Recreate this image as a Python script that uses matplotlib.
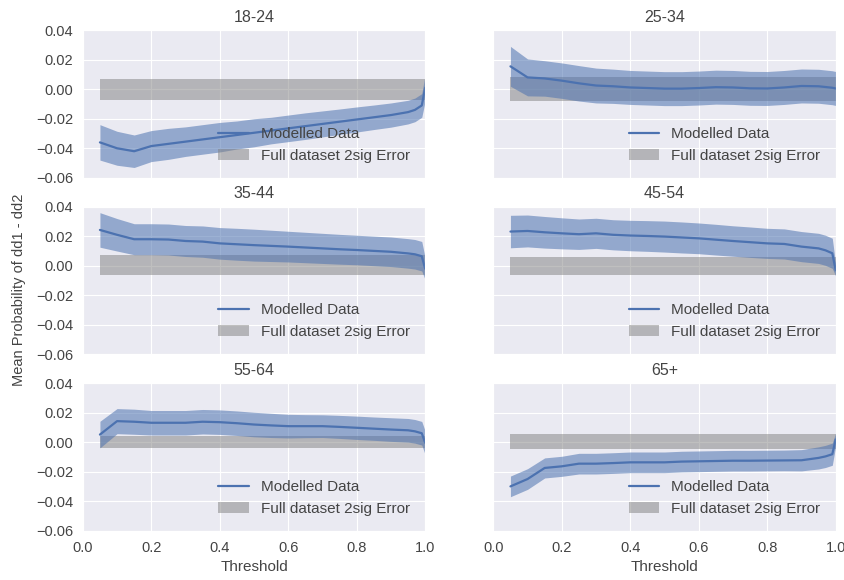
import matplotlib
matplotlib.use("Agg")
import matplotlib.pyplot as plt
import seaborn as sns
import numpy as np

# threshold values shared by every age group
thresholds = [0.05, 0.10, 0.15, 0.20, 0.25, 0.30, 0.35, 0.40, 0.45, 0.50,
              0.55, 0.60, 0.65, 0.70, 0.75, 0.80, 0.85, 0.90, 0.95, 0.97,
              0.99, 1.00]

groups = ["18-24", "25-34", "35-44", "45-54", "55-64", "65+"]

mean_18_24 = [-0.036, -0.040, -0.042, -0.0385, -0.037, -0.0355, -0.034, -0.0325,
              -0.031, -0.0295, -0.028, -0.0265, -0.025, -0.0235, -0.022, -0.0205,
              -0.019, -0.0175, -0.0155, -0.014, -0.011, 0.001]
err_18_24 = [0.012, 0.0115, 0.011, 0.0105, 0.0105, 0.010, 0.010, 0.010,
             0.0095, 0.0095, 0.009, 0.009, 0.009, 0.0088, 0.0086, 0.0085,
             0.0083, 0.0082, 0.008, 0.008, 0.008, 0.009]

mean_25_34 = [0.0155, 0.008, 0.0073, 0.0058, 0.004, 0.0025, 0.002, 0.0012,
              0.0008, 0.0004, 0.0004, 0.0008, 0.0014, 0.0012, 0.0006, 0.0005,
              0.0012, 0.0022, 0.002, 0.0015, 0.001, 0.0005]
err_25_34 = [0.0135, 0.0125, 0.012, 0.012, 0.012, 0.0118, 0.0116, 0.0115,
             0.0115, 0.0115, 0.0115, 0.0115, 0.0115, 0.0115, 0.0115, 0.0115,
             0.0115, 0.0115, 0.0115, 0.0115, 0.0115, 0.0115]

mean_35_44 = [0.0243, 0.021, 0.018, 0.018, 0.0178, 0.0168, 0.0164, 0.0152,
              0.0146, 0.014, 0.0135, 0.013, 0.0124, 0.0118, 0.0112, 0.0107,
              0.0101, 0.0095, 0.0084, 0.0078, 0.0065, -0.002]
err_35_44 = [0.0117, 0.011, 0.0105, 0.0105, 0.0105, 0.0105, 0.0106, 0.0107,
             0.0108, 0.0108, 0.0106, 0.0104, 0.0103, 0.0102, 0.0101, 0.010,
             0.010, 0.010, 0.010, 0.010, 0.010, 0.0075]

mean_45_54 = [0.0232, 0.0236, 0.0227, 0.022, 0.0214, 0.022, 0.021, 0.0205,
              0.0202, 0.0198, 0.0192, 0.0186, 0.0177, 0.0168, 0.016, 0.0152,
              0.0148, 0.013, 0.0118, 0.0105, 0.0085, -0.003]
err_45_54 = [0.011, 0.0108, 0.0107, 0.0105, 0.0103, 0.0102, 0.0102, 0.0103,
             0.0104, 0.0105, 0.0105, 0.0104, 0.0104, 0.0103, 0.0103, 0.0102,
             0.0102, 0.0102, 0.0102, 0.0102, 0.0102, 0.004]

mean_55_64 = [0.0053, 0.0144, 0.014, 0.0133, 0.0133, 0.0133, 0.014, 0.0137,
              0.013, 0.0121, 0.0115, 0.011, 0.011, 0.011, 0.0105, 0.0099,
              0.0093, 0.0087, 0.0082, 0.0075, 0.0062, -0.0003]
err_55_64 = [0.009, 0.0085, 0.0085, 0.0083, 0.0083, 0.0083, 0.0083, 0.0083,
             0.0083, 0.0083, 0.0082, 0.0080, 0.0078, 0.0077, 0.0078, 0.0079,
             0.0079, 0.0080, 0.0080, 0.0080, 0.0080, 0.0080]

mean_65 = [-0.0298, -0.0248, -0.0173, -0.0162, -0.0144, -0.0144, -0.014, -0.0135,
           -0.0135, -0.0135, -0.013, -0.0128, -0.0126, -0.0124, -0.0124, -0.0123,
           -0.0122, -0.0121, -0.0105, -0.0095, -0.008, 0.002]
err_65 = [0.007, 0.007, 0.0068, 0.0068, 0.007, 0.007, 0.007, 0.007,
          0.007, 0.007, 0.007, 0.007, 0.007, 0.007, 0.007, 0.007,
          0.007, 0.0072, 0.0075, 0.0075, 0.0075, 0.0045]

means = [mean_18_24, mean_25_34, mean_35_44, mean_45_54, mean_55_64, mean_65]
errs = [err_18_24, err_25_34, err_35_44, err_45_54, err_55_64, err_65]

# full dataset 2 sigma band (lower, upper) for each group
full_lo = [-0.007, -0.008, -0.006, -0.006, -0.004, -0.0045]
full_hi = [0.007, 0.008, 0.007, 0.006, 0.004, 0.006]

sns.set_style("darkgrid")
plt.rcParams['font.family'] = ['Liberation Sans', 'DejaVu Sans']
text_col = "#444444"
plt.rcParams['text.color'] = text_col
plt.rcParams['xtick.color'] = text_col
plt.rcParams['ytick.color'] = text_col

blue = "#4C72B0"

fig, axes = plt.subplots(3, 2, figsize=(8.45, 5.8), dpi=100,
                         sharex=True, sharey=True)
fig.subplots_adjust(left=0.098, right=0.989, top=0.948, bottom=0.0845,
                    wspace=0.199, hspace=0.196)

x = np.array(thresholds)
for ax, name, m, e, lo, hi in zip(axes.flat, groups, means, errs, full_lo, full_hi):
    m = np.array(m)
    e = np.array(e)
    ax.fill_between(x, lo, hi, color="gray", alpha=0.5, linewidth=0,
                    label="Full dataset 2sig Error")
    ax.fill_between(x, m - e, m + e, color=blue, alpha=0.55, linewidth=0)
    ax.plot(x, m, color=blue, lw=1.6, label="Modelled Data")
    ax.set_title(name, fontsize=11.5, color=text_col)
    ax.set_xlim(0, 1.0)
    ax.set_ylim(-0.06, 0.04)
    ax.set_yticks([-0.06, -0.04, -0.02, 0.00, 0.02, 0.04])
    ax.set_xticks([0.0, 0.2, 0.4, 0.6, 0.8, 1.0])
    ax.tick_params(labelsize=10.5)
    handles, labels = ax.get_legend_handles_labels()
    ax.legend(handles[::-1], labels[::-1], loc="lower right", frameon=False,
              fontsize=11, borderaxespad=0.6)

for ax in axes[-1]:
    ax.set_xlabel("Threshold", fontsize=11, color=text_col)

fig.text(0.022, 0.5, "Mean Probability of dd1 - dd2", rotation=90,
         va="center", ha="center", fontsize=10.5, color=text_col)

plt.savefig("out.png")
